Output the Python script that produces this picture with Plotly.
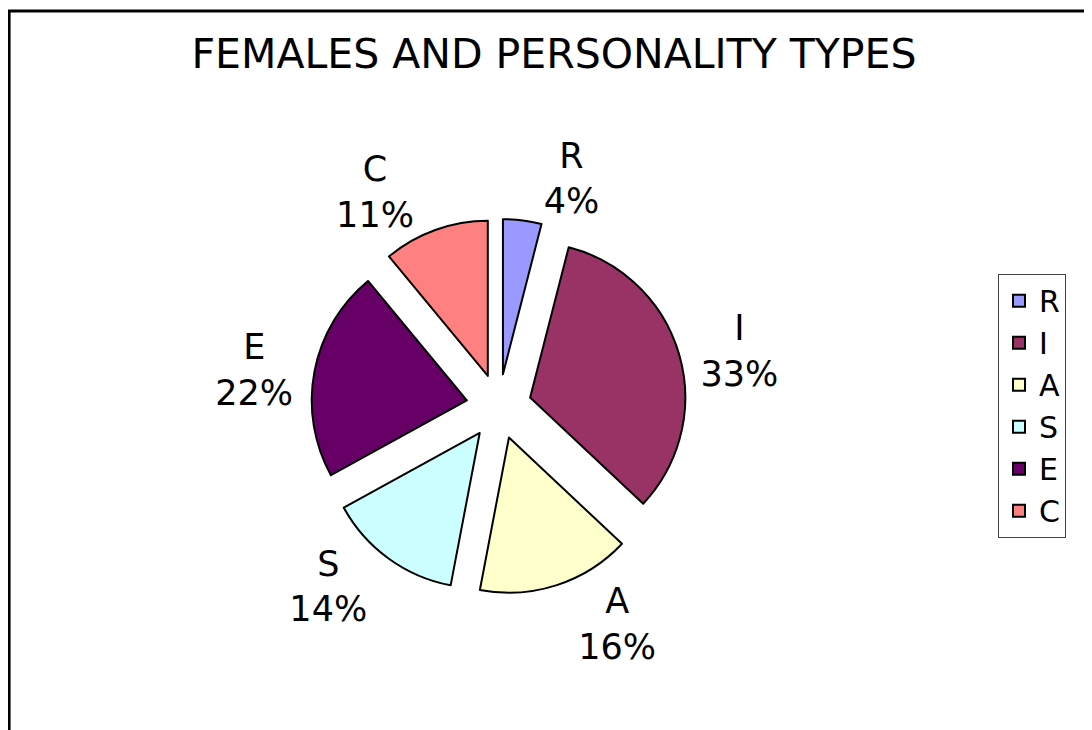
import plotly.graph_objects as go

TYPES = ["R", "I", "A", "S", "E", "C"]
SHARES = [4, 33, 16, 14, 22, 11]
COLOURS = ["#9999FF", "#993366", "#FFFFCC", "#CCFFFF", "#660066", "#FF8080"]

W, H = 1092, 730
OFF = 8  # page body margin shifts the figure

fig = go.Figure(go.Pie(
    labels=TYPES,
    values=SHARES,
    sort=False,
    direction="clockwise",
    rotation=0,
    pull=0.21,
    marker=dict(colors=COLOURS, line=dict(color="black", width=2)),
    texttemplate="%{label}<br>%{percent:.0%}",
    textposition="outside",
    outsidetextfont=dict(family="DejaVu Sans", size=35, color="black"),
    domain=dict(x=[0.271, 0.628], y=[0.166, 0.700]),
    hoverinfo="label+percent",
))

fig.update_layout(
    width=W, height=H,
    margin=dict(l=0, r=0, t=0, b=0),
    paper_bgcolor="white",
    font=dict(family="DejaVu Sans", color="black"),
    title=dict(text="FEMALES AND PERSONALITY TYPES", x=(554 - OFF) / W, xanchor="center",
               y=1 - (54 - OFF) / H, yanchor="middle",
               font=dict(family="DejaVu Sans", size=41, color="black")),
    legend=dict(x=(998 - OFF) / W, y=1 - (284 - OFF) / H, xanchor="left", yanchor="top",
                bordercolor="#444", borderwidth=1,
                font=dict(family="DejaVu Sans", size=30, color="black"),
                itemclick=False, tracegroupgap=0),
    shapes=[dict(type="rect", xref="paper", yref="paper",
                 x0=0.001, x1=1.05, y0=-0.05, y1=1 - 3 / H,
                 line=dict(color="black", width=3))],
)

fig.write_html("out.html")
